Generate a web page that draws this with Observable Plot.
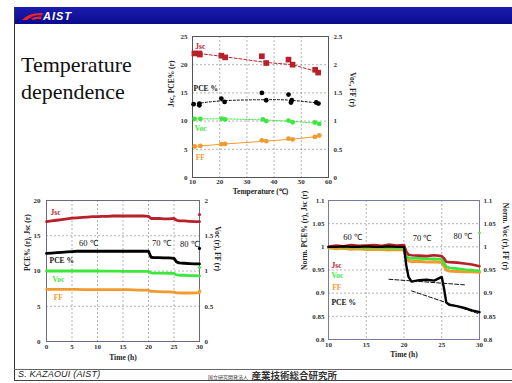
<!DOCTYPE html>
<html><head><meta charset="utf-8">
<script src="https://cdn.jsdelivr.net/npm/d3@7"></script>
<script src="https://cdn.jsdelivr.net/npm/@observablehq/plot@0.6"></script>
<style>
html,body{margin:0;padding:0;background:#fff;}
body{width:512px;height:383px;overflow:hidden;position:relative;font-family:"Liberation Serif",serif;}
.abs{position:absolute;}
#header{left:14px;top:7px;width:498px;height:17px;background:linear-gradient(#1c1cb0,#0a0a8c);}
#logo{left:22px;top:12px;}
#aist{left:43px;top:8px;color:#fff;font:italic bold 11px "Liberation Sans",sans-serif;letter-spacing:1px;line-height:16px;}
#vline{left:14px;top:7px;width:1px;height:374px;background:#333;}
#fl1{left:14px;top:369px;width:498px;height:1px;background:#666;}
#fl2{left:14px;top:380px;width:498px;height:1px;background:#444;}
.title{left:21px;font-size:22px;line-height:27px;color:#111;font-family:"Liberation Serif",serif;}
#author{left:18px;top:368px;font:italic 9px "Liberation Sans",sans-serif;line-height:12px;color:#222;letter-spacing:0.2px;}
#jp{left:208px;top:366px;font-family:"Noto Sans CJK JP",sans-serif;color:#333;line-height:12px;white-space:nowrap;}
#jp .s{font-size:5px;}
#jp .b{font-size:9.5px;font-weight:bold;}
</style>
</head><body>
<div id="header" class="abs"></div>
<svg id="logo" class="abs" width="21" height="9" viewBox="0 0 21 9"><path d="M0,8 Q7,0 21,1 L20,3.5 Q12,2.5 8,6 L5,8 Z" fill="#e8262a"/><path d="M9,6.5 Q13,4 19.5,4.5 L19,7 Q14,6.5 11,8 Z" fill="#e8262a"/></svg>
<div id="aist" class="abs">AIST</div>
<div id="vline" class="abs"></div>
<div class="abs title" style="top:51px">Temperature</div>
<div class="abs title" style="top:78px">dependence</div>
<div id="topChart" class="abs" style="left:150px;top:25px;width:215px;height:180px"></div>
<div id="blChart" class="abs" style="left:0px;top:190px;width:230px;height:174px"></div>
<div id="brChart" class="abs" style="left:290px;top:190px;width:222px;height:172px"></div>
<div id="fl1" class="abs"></div>
<div id="fl2" class="abs"></div>
<div id="author" class="abs">S. KAZAOUI (AIST)</div>
<div id="jp" class="abs"><span class="s">国立研究開発法人</span> <span class="b">産業技術総合研究所</span></div>
<script>
// ---------- Top chart: temperature dependence ----------
const tempTicks = [10, 20, 30, 40, 50, 60];
const topLeftTicks = [0, 5, 10, 15, 20, 25];
const jscTempT = [10.7, 12.5, 12.7, 20.6, 22, 35.5, 37.1, 45.3, 46.8, 55.1, 56.2];
const jscTempV = [22.0, 22.0, 21.8, 21.6, 21.3, 21.5, 20.3, 20.9, 20.0, 19.1, 18.6];
const jscFitT = [10.7, 22, 37.1, 46.8, 56.2];
const jscFitV = [22.1, 21.4, 20.4, 20.0, 18.7];
const pceTempT = [10.4, 12.5, 12.5, 20.6, 21.8, 35.5, 37.1, 45.3, 46.5, 46.2, 55.5, 56.3];
const pceTempV = [13.0, 12.8, 13.1, 14.0, 13.4, 15.0, 13.7, 14.7, 13.7, 13.3, 13.3, 13.1];
const pceFitT = [10.4, 21, 37, 46, 56.3];
const pceFitV = [13.0, 13.6, 13.8, 13.7, 13.2];
const vocTempT = [10.8, 12.9, 20.8, 22, 35.9, 37.1, 45.3, 46.8, 55, 56.6];
const vocTempV = [10.4, 10.4, 10.45, 10.3, 10.3, 10.0, 10.1, 9.8, 9.75, 9.5];
const vocFitT = [10.8, 22, 37.1, 46.8, 56.6];
const vocFitV = [10.4, 10.4, 10.2, 9.95, 9.6];
const ffTempT = [10.8, 12.9, 20.6, 22, 35.5, 37.1, 45.3, 46.8, 55, 56.6];
const ffTempV = [5.5, 5.6, 5.9, 5.95, 6.6, 6.45, 6.9, 6.75, 7.2, 7.45];
const ffFitT = [10.8, 22, 37.1, 46.8, 56.6];
const ffFitV = [5.5, 5.95, 6.45, 6.8, 7.3];

// ---------- Bottom-left: time evolution ----------
const timeTicksA = [0, 5, 10, 15, 20, 25, 30];
const leftTicksA = [0, 5, 10, 15, 20];
const tA   = [0,1,2,3,4,5,6,7,8,9,10,11,12,13,14,15,16,17,18,19,20,20.5,21,22,23,24,25,25.5,26,27,28,29,30];
const jscA = [17.0,17.1,17.2,17.3,17.4,17.5,17.55,17.6,17.65,17.7,17.7,17.75,17.75,17.8,17.8,17.8,17.8,17.8,17.8,17.8,17.75,17.45,17.45,17.45,17.4,17.4,17.45,17.2,17.1,17.1,17.05,17.0,17.0];
const pceA = [12.5,12.55,12.6,12.65,12.7,12.75,12.8,12.8,12.8,12.8,12.8,12.8,12.8,12.8,12.8,12.8,12.8,12.8,12.8,12.8,12.8,11.95,11.9,11.9,11.85,11.85,11.8,11.3,11.15,11.1,11.05,11.0,11.0];
const vocA = [10.0,10.0,10.0,10.0,10.0,10.0,10.0,10.0,10.0,10.0,10.0,9.98,9.98,9.97,9.97,9.96,9.96,9.95,9.95,9.95,9.95,9.75,9.7,9.7,9.7,9.68,9.65,9.45,9.4,9.4,9.35,9.35,9.3];
const ffA  = [7.4,7.4,7.4,7.4,7.4,7.38,7.38,7.36,7.35,7.35,7.35,7.35,7.35,7.35,7.35,7.35,7.35,7.32,7.3,7.3,7.28,7.1,7.1,7.08,7.05,7.05,7.0,6.9,6.9,6.88,6.88,6.9,6.9];
const endA = [18.0, 13.2, 10.5, 7.2]; // Jsc, PCE, Voc, FF end markers at t = 30

// ---------- Bottom-right: normalised ----------
const timeTicksB = [10, 15, 20, 25, 30];
const normTicks = [0.8, 0.85, 0.9, 0.95, 1, 1.05, 1.1];
const tB   = [10,11,12,13,14,15,16,17,18,19,20,20.3,20.6,21,22,23,24,25,25.3,25.6,26,27,28,29,30];
const jscB = [1.0,1.003,1.001,1.004,1.002,1.003,1.004,1.002,1.005,1.003,1.004,0.99,0.983,0.982,0.981,0.98,0.982,0.98,0.975,0.968,0.967,0.966,0.964,0.962,0.958];
const vocB = [1.0,1.0,0.999,1.0,0.999,0.998,0.999,0.998,0.998,0.997,0.998,0.98,0.976,0.975,0.975,0.974,0.974,0.973,0.965,0.957,0.955,0.953,0.951,0.95,0.948];
const ffB  = [0.998,0.996,0.997,0.995,0.996,0.994,0.995,0.994,0.993,0.994,0.993,0.975,0.97,0.968,0.969,0.967,0.968,0.966,0.958,0.95,0.948,0.947,0.946,0.946,0.945];
const pceB = [1.0,1.0,1.001,1.0,1.0,1.001,1.0,1.0,1.001,1.0,1.0,0.96,0.935,0.925,0.928,0.929,0.927,0.935,0.91,0.88,0.875,0.872,0.868,0.863,0.859];
const fit1T = [18, 28], fit1V = [0.93, 0.918];
const fit2T = [21, 30], fit2V = [0.905, 0.855];
const seriesNames = ["Jsc", "PCE %", "Voc", "FF"];
const tempNames = ["60 ℃", "70 ℃", "80 ℃"];

const C = {jsc: "#b8202a", pce: "#000000", voc: "#3be83b", ff: "#f39a2e"};
const fmt = d => String(+d.toFixed(2));

function common(ticksX, ticksY, rightFmt, frameColor, padL, padR, padB) {
  return [
    Plot.gridX(ticksX, {stroke: "#777", strokeDasharray: "2,2", strokeOpacity: 0.8, strokeWidth: 0.7}),
    Plot.gridY(ticksY, {stroke: "#777", strokeDasharray: "2,2", strokeOpacity: 0.8, strokeWidth: 0.7}),
    Plot.frame({stroke: frameColor, strokeWidth: 1}),
    Plot.axisX({ticks: ticksX, tickSize: 0, tickPadding: padB, tickFormat: fmt, fontWeight: "bold", fill: "#333"}),
    Plot.axisY({ticks: ticksY, tickSize: 0, tickPadding: padL, tickFormat: fmt, fontWeight: "bold", fill: "#333"}),
    Plot.axisY({ticks: ticksY, anchor: "right", tickSize: 0, tickPadding: padR, tickFormat: rightFmt, fontWeight: "bold", fill: "#333"})
  ];
}
const baseStyle = {background: "transparent", fontFamily: "Liberation Serif, serif", fontSize: "7px", color: "#222", overflow: "visible"};
const lbl = {fontWeight: "bold", fontSize: 7.5, fontFamily: "Liberation Serif, serif"};
const tlbl = {fill: "#111", fontFamily: "Liberation Serif, serif", fontSize: 8.5};

// Top chart
const topPlot = Plot.plot({
  width: 215, height: 180, marginLeft: 42, marginRight: 37, marginTop: 11, marginBottom: 28,
  style: baseStyle,
  x: {domain: [10, 60], label: null, axis: null},
  y: {domain: [0, 25], label: null, axis: null},
  marks: [
    ...common(tempTicks, topLeftTicks, d => fmt(d / 10), "#555", 5, 5, 2),
    Plot.line(jscFitT, {x: jscFitT, y: jscFitV, stroke: C.jsc, strokeDasharray: "3,2", strokeWidth: 1}),
    Plot.line(pceFitT, {x: pceFitT, y: pceFitV, curve: "natural", stroke: C.pce, strokeDasharray: "2,2", strokeWidth: 1}),
    Plot.line(vocFitT, {x: vocFitT, y: vocFitV, stroke: C.voc, strokeDasharray: "1.5,1.5", strokeWidth: 1}),
    Plot.line(ffFitT, {x: ffFitT, y: ffFitV, stroke: C.ff, strokeWidth: 1}),
    Plot.dot(jscTempT, {x: jscTempT, y: jscTempV, symbol: "square", r: 3.2, fill: C.jsc}),
    Plot.dot(pceTempT, {x: pceTempT, y: pceTempV, r: 2.4, fill: C.pce}),
    Plot.dot(vocTempT, {x: vocTempT, y: vocTempV, r: 2.4, fill: C.voc}),
    Plot.dot(ffTempT, {x: ffTempT, y: ffTempV, r: 2.4, fill: C.ff}),
    Plot.text([seriesNames[0]], {x: 11, y: 23.2, text: d => d, textAnchor: "start", fill: C.jsc, ...lbl}),
    Plot.text([seriesNames[1]], {x: 10.4, y: 15.8, text: d => d, textAnchor: "start", fill: "#111", ...lbl}),
    Plot.text([seriesNames[2]], {x: 10.8, y: 8.7, text: d => d, textAnchor: "start", fill: C.voc, ...lbl}),
    Plot.text([seriesNames[3]], {x: 11.2, y: 3.5, text: d => d, textAnchor: "start", fill: C.ff, ...lbl}),
    Plot.text(["Temperature (℃)"], {frameAnchor: "bottom", dy: 16, text: d => d, ...lbl}),
    Plot.text(["Jsc, PCE% (r)"], {frameAnchor: "left", dx: -21, rotate: -90, text: d => d, ...lbl}),
    Plot.text(["Voc, FF (r)"], {frameAnchor: "right", dx: 24, rotate: 90, text: d => d, ...lbl})
  ]
});
document.getElementById("topChart").append(topPlot);

// Bottom-left chart
const blPlot = Plot.plot({
  width: 230, height: 174, marginLeft: 46, marginRight: 31, marginTop: 10, marginBottom: 23,
  style: baseStyle,
  x: {domain: [0, 30], label: null, axis: null},
  y: {domain: [0, 20], label: null, axis: null},
  marks: [
    ...common(timeTicksA, leftTicksA, d => fmt(d / 10), "#6a6a88", 6, 5, 3),
    Plot.line(tA, {x: tA, y: jscA, stroke: C.jsc, strokeWidth: 2.8}),
    Plot.line(tA, {x: tA, y: pceA, stroke: C.pce, strokeWidth: 2.8}),
    Plot.line(tA, {x: tA, y: vocA, stroke: C.voc, strokeWidth: 2.8}),
    Plot.line(tA, {x: tA, y: ffA, stroke: C.ff, strokeWidth: 2.8}),
    Plot.dot(endA, {x: () => 30, y: d => d, r: 1.6, fill: [C.jsc, C.pce, C.voc, C.ff]}),
    Plot.text([tempNames[0]], {x: 8.2, y: 13.9, text: d => d, ...tlbl}),
    Plot.text([tempNames[1]], {x: 22.5, y: 13.9, text: d => d, ...tlbl}),
    Plot.text([tempNames[2]], {x: 28, y: 13.8, text: d => d, ...tlbl}),
    Plot.text([seriesNames[0]], {x: 0.8, y: 18.3, text: d => d, textAnchor: "start", fill: C.jsc, ...lbl}),
    Plot.text([seriesNames[1]], {x: 0.6, y: 11.5, text: d => d, textAnchor: "start", fill: "#111", ...lbl}),
    Plot.text([seriesNames[2]], {x: 1.2, y: 8.8, text: d => d, textAnchor: "start", fill: C.voc, ...lbl}),
    Plot.text([seriesNames[3]], {x: 1.4, y: 6.2, text: d => d, textAnchor: "start", fill: C.ff, ...lbl}),
    Plot.text(["Time (h)"], {frameAnchor: "bottom", dy: 18, text: d => d, ...lbl}),
    Plot.text(["PCE% (r), Jsc (r)"], {frameAnchor: "left", dx: -19, rotate: -90, text: d => d, ...lbl}),
    Plot.text(["Voc (r), FF (r)"], {frameAnchor: "right", dx: 18, rotate: 90, text: d => d, ...lbl})
  ]
});
document.getElementById("blChart").append(blPlot);

// Bottom-right chart
const brPlot = Plot.plot({
  width: 222, height: 172, marginLeft: 38, marginRight: 33, marginTop: 10, marginBottom: 23,
  style: baseStyle,
  x: {domain: [10, 30], label: null, axis: null},
  y: {domain: [0.8, 1.1], label: null, axis: null},
  marks: [
    ...common(timeTicksB, normTicks, fmt, "#7a7aa0", 4, 4, 3),
    Plot.line(tB, {x: tB, y: ffB, stroke: C.ff, strokeWidth: 3}),
    Plot.line(tB, {x: tB, y: vocB, stroke: C.voc, strokeWidth: 2.6}),
    Plot.line(tB, {x: tB, y: jscB, stroke: C.jsc, strokeWidth: 2.6}),
    Plot.line(tB, {x: tB, y: pceB, stroke: C.pce, strokeWidth: 2.4}),
    Plot.line(fit1T, {x: fit1T, y: fit1V, stroke: "#111", strokeDasharray: "4,2", strokeWidth: 1}),
    Plot.line(fit2T, {x: fit2T, y: fit2V, stroke: "#111", strokeDasharray: "4,2", strokeWidth: 1}),
    Plot.dot([1.03], {x: () => 30, y: d => d, r: 1.3, fill: C.voc}),
    Plot.text([tempNames[0]], {x: 13.2, y: 1.021, text: d => d, ...tlbl}),
    Plot.text([tempNames[1]], {x: 22.4, y: 1.019, text: d => d, ...tlbl}),
    Plot.text([tempNames[2]], {x: 27.8, y: 1.023, text: d => d, ...tlbl}),
    Plot.text([seriesNames[0]], {x: 10.4, y: 0.960, text: d => d, textAnchor: "start", fill: C.jsc, ...lbl}),
    Plot.text([seriesNames[2]], {x: 10.4, y: 0.938, text: d => d, textAnchor: "start", fill: C.voc, ...lbl}),
    Plot.text([seriesNames[3]], {x: 10.5, y: 0.911, text: d => d, textAnchor: "start", fill: C.ff, ...lbl}),
    Plot.text([seriesNames[1]], {x: 10.4, y: 0.879, text: d => d, textAnchor: "start", fill: "#111", ...lbl}),
    Plot.text(["Time (h)"], {frameAnchor: "bottom", dy: 17, text: d => d, ...lbl}),
    Plot.text(["Norm. PCE% (r), Jsc (r)"], {frameAnchor: "left", dx: -24, rotate: -90, text: d => d, ...lbl}),
    Plot.text(["Norm. Voc (r), FF (r)"], {frameAnchor: "right", dx: 26, rotate: 90, text: d => d, ...lbl})
  ]
});
document.getElementById("brChart").append(brPlot);
</script>
</body></html>
